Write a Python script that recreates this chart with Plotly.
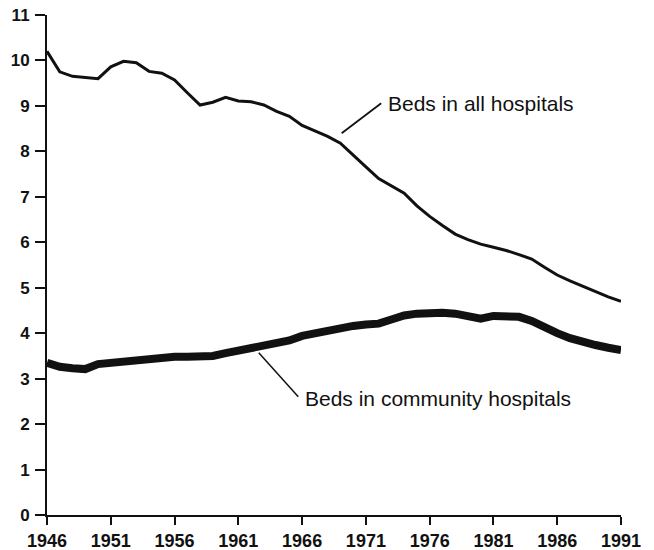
import plotly.graph_objects as go

years = list(range(1946, 1992))
all_hospitals = [10.2, 9.75, 9.65, 9.62, 9.6, 9.86, 9.98, 9.95, 9.76, 9.72,
                 9.57, 9.29, 9.02, 9.08, 9.19, 9.11, 9.09, 9.02, 8.88, 8.77,
                 8.57, 8.45, 8.33, 8.18, 7.93, 7.66, 7.40, 7.24, 7.08, 6.80,
                 6.57, 6.37, 6.18, 6.06, 5.96, 5.89, 5.82, 5.73, 5.63, 5.45,
                 5.28, 5.15, 5.03, 4.91, 4.80, 4.70]
community_hospitals = [3.35, 3.26, 3.23, 3.21, 3.32, 3.35, 3.39, 3.42, 3.42, 3.45,
                       3.48, 3.48, 3.48, 3.50, 3.56, 3.61, 3.66, 3.72, 3.78, 3.84,
                       3.94, 4.00, 4.05, 4.10, 4.16, 4.19, 4.21, 4.30, 4.39, 4.43,
                       4.45, 4.45, 4.43, 4.39, 4.32, 4.38, 4.38, 4.36, 4.27, 4.12,
                       4.00, 3.89, 3.80, 3.74, 3.68, 3.63]

x_ticks = list(range(1946, 1992, 5))
y_ticks = list(range(0, 12))

label_all = "Beds in all hospitals"
label_comm = "Beds in community hospitals"
# annotation anchor points (data coordinates)
label_all_pos = (1972.55, 9.05)
label_comm_pos = (1966.05, 2.57)
leader_all = ((1969.1, 8.40), (1972.2, 9.06))
leader_comm = ((1962.6, 3.57), (1965.7, 2.60))

fig = go.Figure()
fig.add_trace(go.Scatter(x=years, y=all_hospitals, mode="lines",
                         line=dict(color="#111111", width=3), showlegend=False))
fig.add_trace(go.Scatter(x=years, y=community_hospitals, mode="lines",
                         line=dict(color="#111111", width=8), showlegend=False))

fig.add_shape(type="line", xref="x", yref="y",
              x0=leader_all[0][0], y0=leader_all[0][1],
              x1=leader_all[1][0], y1=leader_all[1][1],
              line=dict(color="#111111", width=1.8))
fig.add_shape(type="line", xref="x", yref="y",
              x0=leader_comm[0][0], y0=leader_comm[0][1],
              x1=leader_comm[1][0], y1=leader_comm[1][1],
              line=dict(color="#111111", width=1.5))

fig.add_annotation(x=label_all_pos[0], y=label_all_pos[1], text=label_all,
                   showarrow=False, xanchor="left", yanchor="middle",
                   font=dict(family="Liberation Sans, Arial", size=21, color="#111111"))
fig.add_annotation(x=label_comm_pos[0], y=label_comm_pos[1], text=label_comm,
                   showarrow=False, xanchor="left", yanchor="middle",
                   font=dict(family="Liberation Sans, Arial", size=21, color="#111111"))

fig.update_layout(
    width=654, height=550,
    margin=dict(l=47, r=33, t=15, b=35),
    paper_bgcolor="white", plot_bgcolor="white",
    showlegend=False,
)
fig.update_xaxes(range=[1946, 1991], tickvals=x_ticks, ticktext=[str(v) for v in x_ticks],
                 automargin=False,
                 showgrid=False, zeroline=False, showline=True, linecolor="#111111", linewidth=2,
                 ticks="outside", ticklen=8, tickwidth=1.5, tickcolor="#111111",
                 ticklabelstandoff=0,
                 tickfont=dict(family="Liberation Sans, Arial", size=18, color="#111111", weight="bold"))
fig.update_yaxes(range=[0, 11], tickvals=y_ticks, ticktext=[str(v) for v in y_ticks],
                 automargin=False,
                 showgrid=False, zeroline=False, showline=True, linecolor="#111111", linewidth=2,
                 ticks="outside", ticklen=10, tickwidth=1.5, tickcolor="#111111",
                 ticklabelstandoff=2,
                 tickfont=dict(family="Liberation Sans, Arial", size=17, color="#111111", weight="bold"))

fig.write_html("out.html", config={"displayModeBar": False},
               post_script="document.body.style.margin='0';document.body.style.overflow='hidden';")
